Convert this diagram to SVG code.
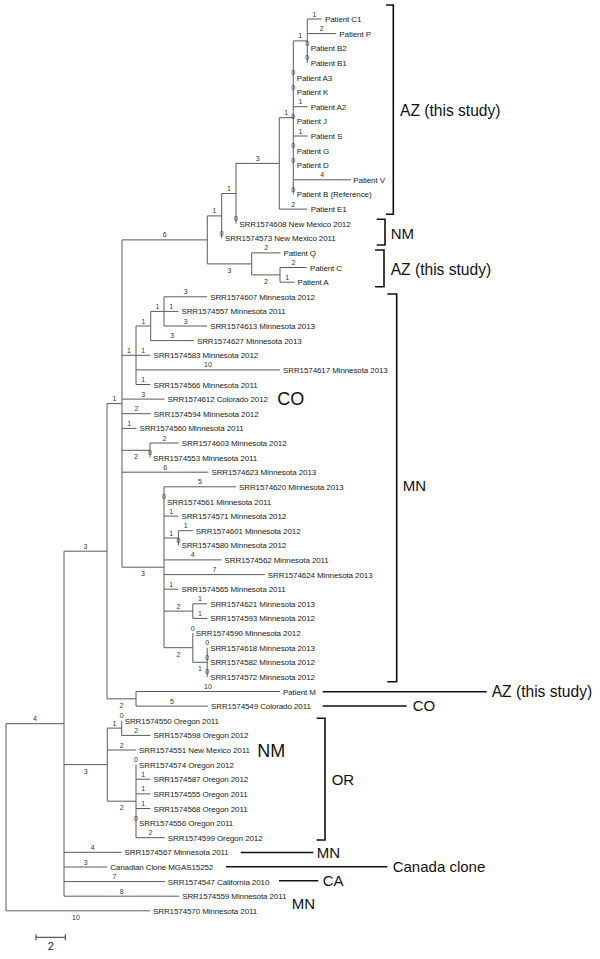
<svg xmlns="http://www.w3.org/2000/svg" width="600" height="959" viewBox="0 0 600 959">
<style>
.e{fill:none;stroke:#5a5a5a;stroke-width:1}
.b{fill:none;stroke:#111;stroke-width:1.6}
.lf{font-family:"Liberation Sans",Arial,sans-serif;font-size:8px;letter-spacing:-0.1px;fill:#222}
.bl{font-family:"Liberation Sans",Arial,sans-serif;font-size:7px;fill:#333;text-anchor:middle}
.ann{font-family:"Liberation Sans",Arial,sans-serif;font-size:15px;fill:#111}
.big{font-family:"Liberation Sans",Arial,sans-serif;font-size:18px;fill:#111}
</style>
<rect width="600" height="959" fill="#fff"/>
<g id="connectors">
<path class="e" d="M6 723.7V910.8M6 723.7H64M6 910.8H150"/>
<path class="e" d="M64 551.2V896.2M64 551.2H107M64 764.6H107.3M64 852.3H121.6M64 867H107.2M64 881.6H164.8M64 896.2H179.2"/>
<path class="e" d="M107 403.6V698.8M107 403.6H122M107 698.8H136"/>
<path class="e" d="M136 691.5V706.1M136 691.5H280M136 706.1H208"/>
<path class="e" d="M122 239.9V567.2M122 239.9H207.3M122 355.3H136M122 399.1H164.5M122 413.7H150.8M122 428.4H136.4M122 450.3H150M122 472.2H208.4M122 567.2H164"/>
<path class="e" d="M207.3 215.9V263.9M207.3 215.9H221.7M207.3 263.9H251.7"/>
<path class="e" d="M221.7 193.5V238.3M221.7 193.5H236"/>
<path class="e" d="M236 163.4V223.7M236 163.4H279.3"/>
<path class="e" d="M279.3 117.7V209.1M279.3 117.7H293.3M279.3 209.1H307.3"/>
<path class="e" d="M293.3 40.9V194.4M293.3 40.9H307.3M293.3 106.7H307.7M293.3 136H307.7M293.3 179.8H350.9"/>
<path class="e" d="M307.3 19V62.9M307.3 19H321.7M307.3 33.6H336.1"/>
<path class="e" d="M251.7 252.9V274.9M251.7 252.9H280.5M251.7 274.9H280"/>
<path class="e" d="M280 267.5V282.2M280 267.5H306.8M280 282.2H294.4"/>
<path class="e" d="M136 326V384.5M136 326H150.7M136 355.3H150.4M136 369.9H280M136 384.5H150.4"/>
<path class="e" d="M150.7 311.4V340.6M150.7 311.4H164M150.7 340.6H193.9"/>
<path class="e" d="M164 296.8V326M164 296.8H207.2M164 311.4H178.4M164 326H207.2"/>
<path class="e" d="M150 443V457.6M150 443H178.8"/>
<path class="e" d="M164 486.8V647.7M164 486.8H236M164 516.1H178.4M164 538H178.4M164 559.9H221.6M164 574.6H264.8M164 589.2H178.4M164 611.1H192.8M164 647.7H192.8"/>
<path class="e" d="M178.4 530.7V545.3M178.4 530.7H192.8"/>
<path class="e" d="M192.8 603.8V618.4M192.8 603.8H207.2M192.8 618.4H207.2"/>
<path class="e" d="M192.8 633V662.3M192.8 662.3H207.2"/>
<path class="e" d="M207.2 647.7V676.9"/>
<path class="e" d="M107.3 728.1V801.2M107.3 728.1H121.7M107.3 750H136.1M107.3 801.2H136"/>
<path class="e" d="M121.7 720.8V735.4M121.7 735.4H150.5"/>
<path class="e" d="M136 764.6V837.7M136 779.2H150.4M136 793.9H150.4M136 808.5H150.4M136 837.7H164.8"/>
</g>
<g id="branch-labels">
<text class="bl" x="314.5" y="16.5">1</text><text class="bl" x="321.7" y="31.1">2</text>
<text class="bl" x="307.3" y="45.7">0</text><text class="bl" x="307.3" y="60.4">0</text>
<text class="bl" x="300.3" y="38.4">1</text><text class="bl" x="293.3" y="75">0</text>
<text class="bl" x="293.3" y="89.6">0</text><text class="bl" x="300.5" y="104.2">1</text>
<text class="bl" x="293.3" y="118.8">0</text><text class="bl" x="300.5" y="133.5">1</text>
<text class="bl" x="293.3" y="148.1">0</text><text class="bl" x="293.3" y="162.7">0</text>
<text class="bl" x="322.1" y="177.3">4</text><text class="bl" x="293.3" y="191.9">0</text>
<text class="bl" x="286.3" y="115.2">1</text><text class="bl" x="293.3" y="206.6">2</text>
<text class="bl" x="257.7" y="160.9">3</text><text class="bl" x="228.9" y="191">1</text>
<text class="bl" x="236" y="221.2">0</text><text class="bl" x="221.7" y="235.8">0</text>
<text class="bl" x="214.5" y="213.4">1</text><text class="bl" x="164.7" y="237.4">6</text>
<text class="bl" x="229.5" y="272.9">3</text><text class="bl" x="266.1" y="250.4">2</text>
<text class="bl" x="265.9" y="283.9">2</text><text class="bl" x="293.4" y="265">2</text>
<text class="bl" x="287.2" y="279.7">1</text>
<text class="bl" x="129" y="352.8">1</text><text class="bl" x="143.4" y="323.5">1</text>
<text class="bl" x="157.4" y="308.9">1</text><text class="bl" x="185.6" y="294.3">3</text>
<text class="bl" x="171.2" y="308.9">1</text><text class="bl" x="185.6" y="323.5">3</text>
<text class="bl" x="172.3" y="338.1">3</text><text class="bl" x="143.2" y="352.8">1</text>
<text class="bl" x="208" y="367.4">10</text><text class="bl" x="143.2" y="382">1</text>
<text class="bl" x="143.2" y="396.6">3</text><text class="bl" x="136.4" y="411.2">2</text>
<text class="bl" x="129.2" y="425.9">1</text><text class="bl" x="136" y="459.3">2</text>
<text class="bl" x="164.4" y="440.5">2</text><text class="bl" x="150" y="455.1">0</text>
<text class="bl" x="165.2" y="469.7">6</text><text class="bl" x="143" y="576.2">3</text>
<text class="bl" x="200" y="484.3">5</text><text class="bl" x="164" y="499">0</text>
<text class="bl" x="171.2" y="513.6">1</text><text class="bl" x="171.2" y="535.5">1</text>
<text class="bl" x="185.6" y="528.2">1</text><text class="bl" x="178.4" y="542.8">0</text>
<text class="bl" x="192.8" y="557.4">4</text><text class="bl" x="214.4" y="572.1">7</text>
<text class="bl" x="171.2" y="586.7">1</text><text class="bl" x="178.4" y="608.6">2</text>
<text class="bl" x="200" y="601.3">1</text><text class="bl" x="200" y="615.9">1</text>
<text class="bl" x="178.4" y="656.7">2</text><text class="bl" x="192.8" y="630.5">0</text>
<text class="bl" x="200" y="671.3">1</text><text class="bl" x="207.2" y="645.2">0</text>
<text class="bl" x="207.2" y="659.8">0</text><text class="bl" x="207.2" y="674.4">0</text>
<text class="bl" x="208" y="689">10</text><text class="bl" x="172" y="703.6">5</text>
<text class="bl" x="121.5" y="707.8">2</text><text class="bl" x="114.5" y="401.1">1</text>
<text class="bl" x="85.5" y="548.7">3</text><text class="bl" x="85.7" y="773.6">3</text>
<text class="bl" x="114.5" y="725.6">1</text><text class="bl" x="121.7" y="718.3">0</text>
<text class="bl" x="136.1" y="732.9">2</text><text class="bl" x="121.7" y="747.5">2</text>
<text class="bl" x="121.7" y="810.2">2</text><text class="bl" x="136" y="762.1">0</text>
<text class="bl" x="143.2" y="776.7">1</text><text class="bl" x="143.2" y="791.4">1</text>
<text class="bl" x="143.2" y="806">1</text><text class="bl" x="136" y="820.6">0</text>
<text class="bl" x="150.4" y="835.2">2</text><text class="bl" x="92.8" y="849.8">4</text>
<text class="bl" x="85.6" y="864.5">3</text><text class="bl" x="114.4" y="879.1">7</text>
<text class="bl" x="121.6" y="893.7">8</text><text class="bl" x="35" y="721.2">4</text>
<text class="bl" x="76" y="919.8">10</text>
</g>
<g id="leaves">
<g id="n-C1"><text class="lf" x="325" y="22">Patient C1</text></g>
<g id="n-P"><text class="lf" x="339.3" y="36.6">Patient P</text></g>
<g id="n-B2"><text class="lf" x="310.7" y="51.2">Patient B2</text></g>
<g id="n-B1"><text class="lf" x="310.7" y="65.9">Patient B1</text></g>
<g id="n-A3"><text class="lf" x="296.7" y="80.5">Patient A3</text></g>
<g id="n-K"><text class="lf" x="296.7" y="95.1">Patient K</text></g>
<g id="n-A2"><text class="lf" x="310.7" y="109.7">Patient A2</text></g>
<g id="n-J"><text class="lf" x="296.7" y="124.3">Patient J</text></g>
<g id="n-S"><text class="lf" x="310.7" y="139">Patient S</text></g>
<g id="n-G"><text class="lf" x="296.7" y="153.6">Patient G</text></g>
<g id="n-D"><text class="lf" x="296.7" y="168.2">Patient D</text></g>
<g id="n-V"><text class="lf" x="353.3" y="182.8">Patient V</text></g>
<g id="n-B"><text class="lf" x="296.7" y="197.4">Patient B (Reference)</text></g>
<g id="n-E1"><text class="lf" x="310.7" y="212.1">Patient E1</text></g>
<g id="n-608"><text class="lf" x="239.3" y="226.7">SRR1574608 New Mexico 2012</text></g>
<g id="n-573"><text class="lf" x="225" y="241.3">SRR1574573 New Mexico 2011</text></g>
<g id="n-Q"><text class="lf" x="283.5" y="255.9">Patient Q</text></g>
<g id="n-C"><text class="lf" x="310" y="270.5">Patient C</text></g>
<g id="n-A"><text class="lf" x="297.4" y="285.2">Patient A</text></g>
<g id="n-607"><text class="lf" x="210.2" y="299.8">SRR1574607 Minnesota 2012</text></g>
<g id="n-557"><text class="lf" x="181.4" y="314.4">SRR1574557 Minnesota 2011</text></g>
<g id="n-613"><text class="lf" x="210.2" y="329">SRR1574613 Minnesota 2013</text></g>
<g id="n-627"><text class="lf" x="196.9" y="343.6">SRR1574627 Minnesota 2013</text></g>
<g id="n-583"><text class="lf" x="153.4" y="358.3">SRR1574583 Minnesota 2012</text></g>
<g id="n-617"><text class="lf" x="283" y="372.9">SRR1574617 Minnesota 2013</text></g>
<g id="n-566"><text class="lf" x="153.4" y="387.5">SRR1574566 Minnesota 2011</text></g>
<g id="n-612"><text class="lf" x="167.5" y="402.1">SRR1574612 Colorado 2012</text></g>
<g id="n-594"><text class="lf" x="153.8" y="416.7">SRR1574594 Minnesota 2012</text></g>
<g id="n-560"><text class="lf" x="139.4" y="431.4">SRR1574560 Minnesota 2011</text></g>
<g id="n-603"><text class="lf" x="181.8" y="446">SRR1574603 Minnesota 2012</text></g>
<g id="n-553"><text class="lf" x="153" y="460.6">SRR1574553 Minnesota 2011</text></g>
<g id="n-623"><text class="lf" x="211.4" y="475.2">SRR1574623 Minnesota 2013</text></g>
<g id="n-620"><text class="lf" x="239" y="489.8">SRR1574620 Minnesota 2013</text></g>
<g id="n-561"><text class="lf" x="167" y="504.5">SRR1574561 Minnesota 2011</text></g>
<g id="n-571"><text class="lf" x="181.4" y="519.1">SRR1574571 Minnesota 2012</text></g>
<g id="n-601"><text class="lf" x="195.8" y="533.7">SRR1574601 Minnesota 2012</text></g>
<g id="n-580"><text class="lf" x="181.4" y="548.3">SRR1574580 Minnesota 2012</text></g>
<g id="n-562"><text class="lf" x="224.6" y="562.9">SRR1574562 Minnesota 2011</text></g>
<g id="n-624"><text class="lf" x="267.8" y="577.6">SRR1574624 Minnesota 2013</text></g>
<g id="n-565"><text class="lf" x="181.4" y="592.2">SRR1574565 Minnesota 2011</text></g>
<g id="n-621"><text class="lf" x="210.2" y="606.8">SRR1574621 Minnesota 2013</text></g>
<g id="n-593"><text class="lf" x="210.2" y="621.4">SRR1574593 Minnesota 2012</text></g>
<g id="n-590"><text class="lf" x="195.8" y="636">SRR1574590 Minnesota 2012</text></g>
<g id="n-618"><text class="lf" x="210.2" y="650.7">SRR1574618 Minnesota 2013</text></g>
<g id="n-582"><text class="lf" x="210.2" y="665.3">SRR1574582 Minnesota 2012</text></g>
<g id="n-572"><text class="lf" x="210.2" y="679.9">SRR1574572 Minnesota 2012</text></g>
<g id="n-M"><text class="lf" x="283" y="694.5">Patient M</text></g>
<g id="n-549"><text class="lf" x="211" y="709.1">SRR1574549 Colorado 2011</text></g>
<g id="n-550"><text class="lf" x="124.7" y="723.8">SRR1574550 Oregon 2011</text></g>
<g id="n-598"><text class="lf" x="153.5" y="738.4">SRR1574598 Oregon 2012</text></g>
<g id="n-551"><text class="lf" x="139.1" y="753">SRR1574551 New Mexico 2011</text></g>
<g id="n-574"><text class="lf" x="139" y="767.6">SRR1574574 Oregon 2012</text></g>
<g id="n-587"><text class="lf" x="153.4" y="782.2">SRR1574587 Oregon 2012</text></g>
<g id="n-555"><text class="lf" x="153.4" y="796.9">SRR1574555 Oregon 2011</text></g>
<g id="n-568"><text class="lf" x="153.4" y="811.5">SRR1574568 Oregon 2011</text></g>
<g id="n-556"><text class="lf" x="139" y="826.1">SRR1574556 Oregon 2011</text></g>
<g id="n-599"><text class="lf" x="167.8" y="840.7">SRR1574599 Oregon 2012</text></g>
<g id="n-567"><text class="lf" x="124.6" y="855.3">SRR1574567 Minnesota 2011</text></g>
<g id="n-canadian"><text class="lf" x="110.2" y="870">Canadian Clone MGAS15252</text></g>
<g id="n-547"><text class="lf" x="167.8" y="884.6">SRR1574547 California 2010</text></g>
<g id="n-559"><text class="lf" x="182.2" y="899.2">SRR1574559 Minnesota 2011</text></g>
<g id="n-570"><text class="lf" x="153" y="913.8">SRR1574570 Minnesota 2011</text></g>
</g>
<g id="annotations">
<path class="b" d="M386 5H393.3V214.3H386"/>
<text class="ann" x="400" y="116" style="font-size:15.6px">AZ (this study)</text>
<path class="b" d="M376.7 219.3H385V245H376.7"/>
<text class="ann" x="390.7" y="238.6">NM</text>
<path class="b" d="M375 250H384V286.7H375"/>
<text class="ann" x="390.7" y="274.8" style="font-size:15.6px">AZ (this study)</text>
<path class="b" d="M387.3 294H396.7V681.7H387.3"/>
<text class="ann" x="402.7" y="491.3">MN</text>
<path class="b" d="M322.7 691.7H486.7"/>
<text class="ann" x="491.7" y="697.2" style="font-size:15.6px">AZ (this study)</text>
<path class="b" d="M322.7 706H406.7"/>
<text class="ann" x="412.7" y="711.4">CO</text>
<path class="b" d="M316.7 718.3H325V840H316.7"/>
<text class="ann" x="331.7" y="784.8">OR</text>
<path class="b" d="M240.7 852.5H313.3"/>
<text class="ann" x="316.7" y="858">MN</text>
<path class="b" d="M226 866.7H387.3"/>
<text class="ann" x="392.7" y="872.2">Canada clone</text>
<path class="b" d="M279 880.7H318.3"/>
<text class="ann" x="322.7" y="886.1">CA</text>
<text class="ann" x="291.7" y="908.5">MN</text>
<text class="big" x="277.3" y="405">CO</text>
<text class="big" x="257.3" y="756.6">NM</text>
</g>
<g id="scale-bar">
<path class="e" d="M36 937.3H65.3M36 934.3V940.3M65.3 934.3V940.3" style="stroke:#333"/>
<text x="50.7" y="950" style="font-family:'Liberation Sans',Arial,sans-serif;font-size:11px;fill:#222;text-anchor:middle">2</text>
</g>
</svg>
